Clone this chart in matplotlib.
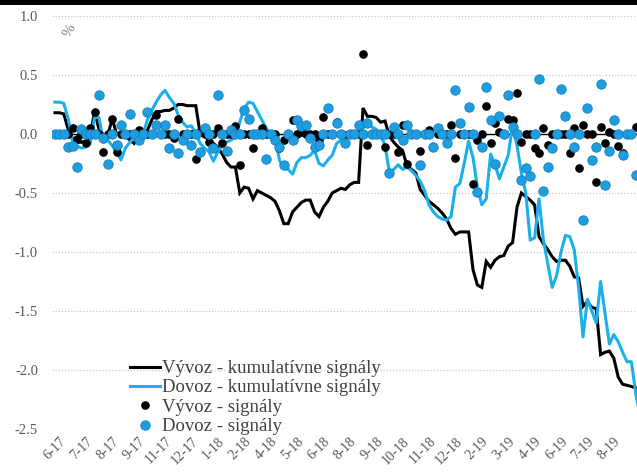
import matplotlib
matplotlib.use("Agg")
import matplotlib.pyplot as plt
import numpy as np
from matplotlib.patches import Rectangle

# ---------------- data ----------------
vyvoz_kum = [0.18, 0.18, 0.17, 0.04, -0.04, -0.07, -0.07, -0.06, -0.02, 0.19,
             0.04, -0.01, -0.01, 0.13, 0.0, -0.01, -0.02, -0.05, -0.08, -0.02,
             0.01, 0.03, 0.12, 0.19, 0.19, 0.2, 0.2, 0.22, 0.25, 0.25,
             0.24, 0.24, 0.24, 0.0, -0.02, -0.05, -0.08, -0.11, -0.17, -0.24,
             -0.28, -0.28, -0.5, -0.45, -0.46, -0.55, -0.48, -0.5, -0.52, -0.54,
             -0.57, -0.65, -0.76, -0.76, -0.66, -0.62, -0.58, -0.56, -0.56, -0.66,
             -0.7, -0.62, -0.57, -0.5, -0.48, -0.46, -0.47, -0.43, -0.41, -0.41,
             0.22, 0.15, 0.15, 0.14, 0.1, 0.11, -0.02, -0.07, -0.11, -0.14,
             -0.27, -0.3, -0.33, -0.47, -0.52, -0.57, -0.6, -0.63, -0.67, -0.72,
             -0.8, -0.85, -0.83, -0.83, -0.83, -1.15, -1.28, -1.3, -1.08, -1.13,
             -1.07, -1.04, -1.03, -0.95, -0.92, -0.62, -0.5, -0.53, -0.56, -0.6,
             -0.87, -0.93, -0.98, -1.04, -1.08, -1.07, -1.07, -1.12, -1.21, -1.22,
             -1.46, -1.42, -1.47, -1.48, -1.87, -1.85, -1.84, -1.9, -2.06, -2.12,
             -2.13, -2.14, -2.15, -2.16]

dovoz_kum = [0.27, 0.27, 0.26, 0.13, -0.07, -0.1, -0.12, -0.11, -0.08, 0.14,
             0.14, -0.07, -0.05, -0.1, -0.15, -0.22, -0.12, -0.07, -0.03, -0.01,
             0.0, 0.12, 0.2, 0.27, 0.33, 0.37, 0.31, 0.26, 0.16, 0.1,
             0.06, 0.07, 0.0, -0.08, -0.12, -0.15, -0.23, -0.15, -0.1, -0.07,
             -0.05, -0.03, 0.1, 0.22, 0.27, 0.26, 0.19, 0.12, 0.05, 0.0,
             -0.03, -0.22, -0.29, -0.3, -0.34, -0.24, -0.2, -0.2, -0.18, -0.14,
             -0.25, -0.27, -0.22, -0.18, -0.08, -0.05, -0.04, -0.02, 0.0, 0.02,
             0.05, 0.09, 0.06, 0.04, 0.0, -0.1, -0.32, -0.3, -0.26, -0.3,
             -0.28, -0.31, -0.35, -0.4, -0.48, -0.6, -0.66, -0.7, -0.72, -0.73,
             -0.7, -0.45, -0.42, -0.25, -0.06, -0.2, -0.45, -0.6, -0.55, -0.17,
             -0.26, -0.38, -0.28, -0.18, 0.08, -0.1, -0.33, -0.5, -0.9, -0.88,
             -0.55, -0.9, -1.1, -1.3, -1.2, -1.0, -0.86, -0.87, -0.98, -1.3,
             -1.72, -1.4, -1.5, -1.6, -1.25, -1.52, -1.78, -1.7, -1.76, -1.85,
             -1.93, -1.93, -2.2, -2.4]

n_points = len(vyvoz_kum)

# signals (non-zero values by observation index; everything else is 0)
vyvoz_sig_idx = [4, 5, 7, 8, 9, 11, 13, 14, 19, 23, 27, 28, 32, 33, 35, 37, 38,
                 41, 42, 45, 47, 51, 52, 54, 56, 60, 61, 64, 66, 70, 71, 75, 78,
                 79, 80, 83, 85, 86, 90, 91, 95, 96, 98, 99, 100, 101, 103, 104,
                 105, 106, 109, 110, 111, 112, 117, 118, 119, 120, 123, 124, 125,
                 126, 128, 129, 132]
vyvoz_sig_val = [0.05, -0.04, -0.08, 0.05, 0.19, -0.15, 0.13, -0.15, 0.03, 0.16,
                 -0.03, 0.13, -0.21, 0.02, -0.07, 0.05, -0.08,
                 0.07, -0.26, -0.12, 0.05, -0.12, -0.05, 0.12, 0.02, -0.05, 0.14,
                 0.1, -0.01, 0.68, -0.09, -0.11, -0.15,
                 0.08, -0.25, -0.14, 0.03, -0.11, 0.08, -0.2, -0.42, -0.05, 0.24,
                 -0.08, 0.09, 0.02, 0.13, 0.12,
                 0.35, -0.07, -0.12, -0.16, 0.05, -0.09, -0.16, 0.05, -0.29, 0.08,
                 -0.41, 0.06, -0.08,
                 0.02, -0.1, -0.16, 0.06]

dovoz_sig_idx = [3, 4, 5, 6, 10, 11, 12, 14, 15, 17, 19, 21, 23, 25, 26, 28, 29,
                 31, 33, 34, 36, 37, 39, 40, 43, 44, 48, 50, 51, 52, 54, 55, 56,
                 57, 58, 59, 60, 62, 64, 66, 69, 71, 76, 77, 79, 80, 83, 86, 87,
                 89, 91, 92, 94, 96, 97, 98, 99, 100, 101, 103, 104, 106, 107,
                 108, 110, 111, 112, 113, 115, 116, 118, 120, 121, 122, 123, 124,
                 125, 126, 127, 129, 132]
dovoz_sig_val = [-0.11, -0.1, -0.28, 0.04, 0.33, -0.03, -0.25, -0.09, 0.08, 0.17,
                 -0.05, 0.19, 0.08, 0.08, -0.12, -0.16, -0.05,
                 -0.09, -0.15, 0.05, -0.12, 0.33, -0.14, 0.03, 0.2, 0.13, -0.21,
                 -0.05, -0.11, -0.26, -0.05, 0.12, 0.07,
                 0.08, -0.03, -0.11, -0.09, 0.22, 0.09, -0.08, 0.08, 0.09, -0.33,
                 0.06, -0.05, 0.08, -0.26, -0.11, 0.05,
                 -0.08, 0.37, 0.09, 0.23, -0.49, -0.11, 0.4, 0.12, -0.25, 0.15,
                 0.33, 0.06, -0.39, -0.29,
                 -0.36, 0.47, -0.48, -0.28, -0.12, 0.38, 0.15, -0.11, -0.73, 0.22,
                 -0.22, -0.11, 0.42,
                 -0.43, -0.14, 0.12, -0.18, -0.35]

tick_labels = ["6-17", "7-17", "8-17", "9-17", "11-17", "12-17", "1-18", "2-18",
               "4-18", "5-18", "6-18", "8-18", "9-18", "10-18", "11-18", "12-18",
               "2-19", "3-19", "4-19", "6-19", "7-19", "8-19"]
tick_first = 1
tick_every = 6

legend_labels = ["Vývoz - kumulatívne signály", "Dovoz - kumulatívne signály",
                 "Vývoz - signály", "Dovoz - signály"]

# ---------------- build series ----------------
x = np.arange(n_points)
vyvoz_sig = np.zeros(n_points)
vyvoz_sig[vyvoz_sig_idx] = vyvoz_sig_val
dovoz_sig = np.zeros(n_points)
dovoz_sig[dovoz_sig_idx] = dovoz_sig_val
dovoz_sig = dovoz_sig[:n_points - 1]
vyvoz_sig = vyvoz_sig[:n_points - 1]

# ---------------- plot ----------------
W, H = 637, 474
fig = plt.figure(figsize=(W / 100, H / 100), dpi=100)
fig.patch.set_facecolor("white")
ax = fig.add_axes([52 / W, (H - 429) / H, (W - 52) / W, (429 - 16) / H])

serif = ["Liberation Serif", "DejaVu Serif"]
blue_line = "#1cb0ea"
blue_dot = "#1e9de0"
gray = "#595959"

ax.set_ylim(-2.5, 1.0)
ax.set_xlim(-0.68, 132.27)
ax.set_yticks(np.arange(-2.5, 1.01, 0.5))
ax.yaxis.grid(True, color="#c9c9c9", linestyle=(0, (1, 1.5)), linewidth=0.9)
ax.set_axisbelow(True)
for s in ax.spines.values():
    s.set_visible(False)
ax.axhline(0, color="black", linewidth=1.0, zorder=1)

l1, = ax.plot(x, vyvoz_kum, color="black", linewidth=2.2, zorder=3,
              solid_joinstyle="miter")
l2, = ax.plot(x, dovoz_kum, color=blue_line, linewidth=2.2, zorder=4)
p1, = ax.plot(x[:n_points - 1], vyvoz_sig, linestyle="none", marker="o",
              markersize=5.2, color="black", zorder=5)
p2, = ax.plot(x[:n_points - 1], dovoz_sig, linestyle="none", marker="o",
              markersize=6.8, markerfacecolor=blue_dot,
              markeredgecolor="#1780c0", markeredgewidth=0.6, zorder=6)

ticks = [tick_first + tick_every * k for k in range(len(tick_labels))]
ax.set_xticks(ticks)
ax.set_xticklabels(tick_labels, rotation=45, ha="right", rotation_mode="anchor",
                   family=serif, fontsize=10, color=gray)
ax.tick_params(axis="x", length=0, pad=4)
ax.tick_params(axis="y", length=0, pad=10, labelcolor=gray, labelsize=10.5)
ax.set_yticks(np.arange(-2.5, 1.01, 0.5))
ax.set_yticklabels([f"{v:.1f}" for v in np.arange(-2.5, 1.01, 0.5)],
                   family=serif)

fig.text(70 / W, 1 - 31 / H, "%", rotation=60, ha="center", va="center",
         fontsize=11, color="#7f7f7f", family=serif)

leg = fig.legend([l1, l2, p1, p2], legend_labels,
                 loc="upper left", bbox_to_anchor=(130 / W, 1 - 360 / H),
                 frameon=False, handlelength=1.6, handletextpad=0.1,
                 labelspacing=0.12, borderaxespad=0, borderpad=0,
                 prop={"family": serif, "size": 13.5})
for t in leg.get_texts():
    t.set_color("#404040")

# dark band at the very top of the picture
fig.patches.append(Rectangle((0, 1 - 5 / H), 1, 5 / H, transform=fig.transFigure,
                             facecolor="black", edgecolor="none", zorder=10))

fig.savefig("out.png", dpi=100, facecolor="white")
